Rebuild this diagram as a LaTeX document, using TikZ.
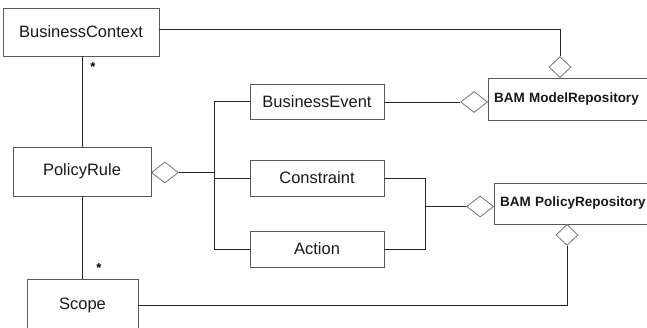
\documentclass[tikz,border=0pt]{standalone}
\usepackage{fontspec}
\setmainfont{Liberation Sans}
\usetikzlibrary{shapes.geometric}
\begin{document}
\begin{tikzpicture}[x=1pt,y=-1pt,
  cls/.style={draw=black!65, line width=0.9pt, fill=white, inner sep=0pt,
    font=\fontsize{16.5}{18}\selectfont, text=black!90},
  repo/.style={draw=black!65, line width=0.9pt, fill=white, inner sep=0pt,
    font=\fontsize{13.5}{15}\selectfont\bfseries, text=black!90,
    align=left, inner xsep=6pt},
  agg/.style={shape=diamond, draw=black!55, line width=0.8pt, fill=white,
    inner sep=0pt, minimum width=27pt, minimum height=21pt},
  aggs/.style={shape=diamond, draw=black!55, line width=0.8pt, fill=white,
    inner sep=0pt, minimum width=22pt, minimum height=21pt},
  link/.style={draw=black!85, line width=0.8pt},
  mult/.style={font=\fontsize{13}{13}\selectfont\bfseries, inner sep=0pt}]
\useasboundingbox (0,0) rectangle (647,327);
\clip (0,0) rectangle (647,327);
\fill[white] (0,0) rectangle (647,327);

% classes
\node[cls, minimum width=156pt, minimum height=48pt] (bc) at (81,32) {BusinessContext};
\node[cls, minimum width=138pt, minimum height=49pt] (pr) at (82,171.5) {PolicyRule};
\node[cls, minimum width=111pt, minimum height=53pt] (sc) at (82.5,305.5) {Scope};
\node[cls, minimum width=134pt, minimum height=35pt] (be) at (317,101.5) {BusinessEvent};
\node[cls, minimum width=134pt, minimum height=36pt] (cn) at (317,178) {Constraint};
\node[cls, minimum width=134pt, minimum height=36pt] (ac) at (317,249) {Action};
\node[repo, minimum height=42pt, text width=165pt] (mr) at (576.5,99) {BAM ModelRepository};
\node[repo, minimum height=41pt, text width=159pt] (pp) at (579.5,203.5) {BAM PolicyRepository};

% aggregation diamonds
\node[agg, anchor=west] (dpr) at (151,172.5) {};
\node[agg, anchor=east] (dmr) at (488,102) {};
\node[aggs, anchor=south] (dmt) at (560,78) {};
\node[agg, anchor=east] (dpp) at (494,206.5) {};
\node[aggs, anchor=north] (dpb) at (567,224) {};

% junction points
\coordinate (bus) at (214,0);
\coordinate (jn) at (425,206.5);

% associations
\draw[link] ([yshift=3pt]bc.east) -| (dmt.north);
\draw[link] (be.east |- dmr.west) -- (dmr.west);
\draw[link] (pr.north |- bc.south) -- (pr.north);
\draw[link] (pr.south) -- (pr.south |- sc.north);
\draw[link] (dpr.east) -- (dpr.east -| bus);
\draw[link] (be.west) -- (be.west -| bus) |- (ac.west);
\draw[link] (cn.west) -- (cn.west -| bus);
\draw[link] (cn.east) -- (cn.east -| jn) |- (ac.east);
\draw[link] (jn) -- (dpp.west);
\draw[link] (dpb.south) |- (sc.east);

% multiplicities
\node[mult] (m1) at (93,67) {*};
\node[mult] (m2) at (99,268) {*};
\end{tikzpicture}
\end{document}
